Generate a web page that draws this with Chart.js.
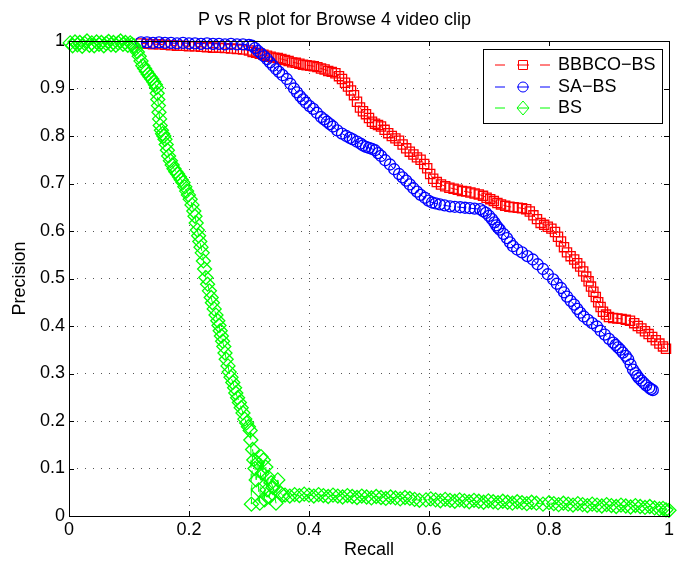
<!DOCTYPE html>
<html>
<head>
<meta charset="utf-8">
<script src="https://cdn.jsdelivr.net/npm/chart.js@4.4.1/dist/chart.umd.min.js"></script>
<style>
  html, body { margin: 0; padding: 0; background: #fff; }
  #wrap { width: 680px; height: 561px; }
</style>
</head>
<body>
<div id="wrap"><canvas id="prChart" width="680" height="561"></canvas></div>
<script>
// tick labels
const xTickValues = [0, 0.2, 0.4, 0.6, 0.8, 1];
const xTickLabels = ["0", "0.2", "0.4", "0.6", "0.8", "1"];
const yTickValues = [0, 0.1, 0.2, 0.3, 0.4, 0.5, 0.6, 0.7, 0.8, 0.9, 1];
const yTickLabels = ["0", "0.1", "0.2", "0.3", "0.4", "0.5", "0.6", "0.7", "0.8", "0.9", "1"];

const seriesNames = ["BBBCO\u2212BS", "SA\u2212BS", "BS"];

// [recall, precision]

// BBBCO-BS (red squares)
const bbbCurve = [
  [0.12, 0.995], [0.13, 0.994], [0.14, 0.993], [0.15, 0.993], [0.16, 0.992], [0.17, 0.991], [0.18, 0.99],
  [0.19, 0.99], [0.2, 0.989], [0.21, 0.989], [0.22, 0.988], [0.23, 0.987], [0.24, 0.986], [0.25, 0.986],
  [0.26, 0.985], [0.27, 0.984], [0.28, 0.983], [0.29, 0.982], [0.3, 0.98], [0.306, 0.977], [0.312, 0.975],
  [0.318, 0.973], [0.324, 0.971], [0.33, 0.969], [0.336, 0.967], [0.342, 0.965], [0.348, 0.964], [0.354, 0.962],
  [0.36, 0.96], [0.366, 0.958], [0.372, 0.955], [0.378, 0.954], [0.384, 0.952], [0.39, 0.95], [0.396, 0.949],
  [0.402, 0.948], [0.408, 0.947], [0.414, 0.945], [0.42, 0.942], [0.426, 0.94], [0.432, 0.937], [0.438, 0.935],
  [0.444, 0.932], [0.45, 0.926], [0.455, 0.92], [0.46, 0.912], [0.465, 0.904], [0.47, 0.896], [0.475, 0.886],
  [0.48, 0.872], [0.485, 0.86], [0.49, 0.852], [0.495, 0.846], [0.5, 0.838], [0.505, 0.83], [0.51, 0.826],
  [0.515, 0.823], [0.52, 0.82], [0.526, 0.813], [0.532, 0.806], [0.538, 0.8], [0.544, 0.795], [0.55, 0.79],
  [0.556, 0.782], [0.562, 0.774], [0.568, 0.767], [0.574, 0.761], [0.58, 0.755], [0.586, 0.75], [0.592, 0.741],
  [0.597, 0.732], [0.602, 0.72], [0.607, 0.71], [0.613, 0.703], [0.62, 0.698], [0.627, 0.694], [0.634, 0.691],
  [0.641, 0.689], [0.648, 0.687], [0.655, 0.684], [0.662, 0.683], [0.669, 0.681], [0.676, 0.679], [0.683, 0.677],
  [0.69, 0.674], [0.696, 0.67], [0.702, 0.667], [0.708, 0.663], [0.714, 0.659], [0.72, 0.656], [0.727, 0.653],
  [0.734, 0.651], [0.741, 0.65], [0.748, 0.649], [0.755, 0.648], [0.762, 0.646], [0.768, 0.641], [0.774, 0.633],
  [0.78, 0.625], [0.786, 0.617], [0.792, 0.613], [0.798, 0.609], [0.804, 0.605], [0.81, 0.598], [0.815, 0.588],
  [0.82, 0.578], [0.825, 0.566], [0.83, 0.555], [0.836, 0.547], [0.842, 0.54], [0.847, 0.532], [0.852, 0.525],
  [0.857, 0.515], [0.862, 0.504], [0.866, 0.494], [0.87, 0.483], [0.874, 0.472], [0.878, 0.461], [0.882, 0.45],
  [0.886, 0.44], [0.89, 0.43], [0.895, 0.424], [0.9, 0.419], [0.907, 0.417], [0.914, 0.416], [0.921, 0.415],
  [0.928, 0.413], [0.935, 0.411], [0.942, 0.406], [0.948, 0.4], [0.954, 0.395], [0.96, 0.389], [0.966, 0.383],
  [0.972, 0.377], [0.978, 0.37], [0.984, 0.363], [0.99, 0.357], [0.995, 0.352],
];

// SA-BS (blue circles)
const saCurve = [
  [0.12, 0.997], [0.13, 0.997], [0.14, 0.996], [0.15, 0.997], [0.16, 0.996], [0.17, 0.996], [0.18, 0.995],
  [0.19, 0.996], [0.2, 0.995], [0.21, 0.995], [0.22, 0.994], [0.23, 0.995], [0.24, 0.994], [0.25, 0.994],
  [0.26, 0.993], [0.27, 0.994], [0.28, 0.993], [0.29, 0.993], [0.3, 0.992], [0.305, 0.99], [0.31, 0.985],
  [0.315, 0.979], [0.32, 0.974], [0.325, 0.968], [0.33, 0.962], [0.335, 0.955], [0.34, 0.948], [0.345, 0.941],
  [0.35, 0.935], [0.356, 0.928], [0.363, 0.92], [0.369, 0.91], [0.375, 0.9], [0.38, 0.892], [0.385, 0.884],
  [0.39, 0.877], [0.395, 0.87], [0.401, 0.863], [0.407, 0.857], [0.413, 0.849], [0.42, 0.84], [0.425, 0.835],
  [0.43, 0.83], [0.435, 0.825], [0.44, 0.82], [0.447, 0.812], [0.455, 0.805], [0.462, 0.8], [0.468, 0.796],
  [0.473, 0.793], [0.48, 0.788], [0.486, 0.784], [0.49, 0.78], [0.495, 0.777], [0.5, 0.775], [0.505, 0.773],
  [0.51, 0.77], [0.515, 0.764], [0.52, 0.758], [0.527, 0.749], [0.535, 0.74], [0.542, 0.73], [0.55, 0.72],
  [0.556, 0.713], [0.562, 0.706], [0.568, 0.698], [0.574, 0.69], [0.58, 0.683], [0.586, 0.676], [0.593, 0.67],
  [0.599, 0.664], [0.605, 0.66], [0.611, 0.658], [0.618, 0.656], [0.626, 0.654], [0.635, 0.652], [0.643, 0.651],
  [0.652, 0.65], [0.66, 0.649], [0.668, 0.648], [0.676, 0.647], [0.685, 0.646], [0.69, 0.642], [0.695, 0.638],
  [0.7, 0.632], [0.705, 0.625], [0.709, 0.618], [0.712, 0.612], [0.715, 0.607], [0.718, 0.603], [0.724, 0.594],
  [0.73, 0.585], [0.735, 0.576], [0.74, 0.568], [0.747, 0.561], [0.755, 0.555], [0.764, 0.547], [0.773, 0.54],
  [0.781, 0.53], [0.79, 0.52], [0.798, 0.509], [0.807, 0.498], [0.813, 0.489], [0.82, 0.48], [0.825, 0.471],
  [0.83, 0.462], [0.836, 0.453], [0.842, 0.445], [0.847, 0.436], [0.852, 0.428], [0.858, 0.42], [0.865, 0.413],
  [0.872, 0.406], [0.88, 0.399], [0.886, 0.39], [0.893, 0.382], [0.9, 0.373], [0.907, 0.365], [0.911, 0.36],
  [0.915, 0.355], [0.919, 0.35], [0.923, 0.344], [0.928, 0.337], [0.932, 0.33], [0.936, 0.319], [0.94, 0.308],
  [0.944, 0.301], [0.947, 0.295], [0.95, 0.29], [0.954, 0.285], [0.958, 0.28], [0.962, 0.275], [0.967, 0.27],
  [0.97, 0.267], [0.973, 0.265],
];

// BS (green diamonds)
const bsCurve = [
  [0.002, 0.996], [0.006, 0.99], [0.01, 0.998], [0.014, 0.992], [0.018, 0.997], [0.022, 0.989], [0.026, 0.995],
  [0.03, 1.0], [0.034, 0.991], [0.038, 0.996], [0.042, 0.99], [0.046, 0.998], [0.05, 0.993], [0.054, 0.997],
  [0.058, 0.99], [0.062, 0.995], [0.066, 0.999], [0.07, 0.992], [0.074, 0.997], [0.078, 0.991], [0.082, 0.996],
  [0.086, 1.0], [0.09, 0.993], [0.094, 0.997], [0.098, 0.991], [0.102, 0.996], [0.105, 0.993],
  [0.108, 0.99], [0.111, 0.984], [0.114, 0.977], [0.117, 0.968], [0.12, 0.958], [0.123, 0.948], [0.126, 0.942],
  [0.129, 0.936], [0.132, 0.93], [0.135, 0.925], [0.138, 0.92], [0.141, 0.914], [0.144, 0.908], [0.146, 0.902],
  [0.147, 0.89], [0.148, 0.877], [0.149, 0.864], [0.15, 0.85], [0.151, 0.836], [0.152, 0.822], [0.154, 0.812],
  [0.156, 0.805], [0.158, 0.8], [0.16, 0.793], [0.162, 0.782], [0.164, 0.77], [0.166, 0.758], [0.169, 0.748],
  [0.172, 0.739], [0.175, 0.731], [0.178, 0.725], [0.181, 0.72], [0.184, 0.714], [0.187, 0.708], [0.19, 0.702],
  [0.193, 0.693], [0.196, 0.684], [0.199, 0.676], [0.202, 0.667], [0.205, 0.655], [0.208, 0.642], [0.21, 0.631],
  [0.212, 0.617], [0.214, 0.602], [0.216, 0.59], [0.218, 0.578], [0.22, 0.566], [0.222, 0.554], [0.224, 0.537],
  [0.226, 0.52], [0.228, 0.502], [0.231, 0.488], [0.234, 0.474], [0.237, 0.46], [0.239, 0.449], [0.242, 0.436],
  [0.245, 0.423], [0.248, 0.411], [0.25, 0.401], [0.252, 0.39], [0.254, 0.379], [0.256, 0.368], [0.258, 0.357],
  [0.26, 0.343], [0.262, 0.33], [0.265, 0.316], [0.267, 0.303], [0.27, 0.292], [0.273, 0.281], [0.276, 0.27],
  [0.278, 0.259], [0.281, 0.249], [0.284, 0.239], [0.287, 0.228], [0.29, 0.217], [0.293, 0.204], [0.296, 0.196],
  [0.299, 0.188], [0.302, 0.18], [0.303, 0.16], [0.304, 0.025], [0.306, 0.14], [0.308, 0.118], [0.31, 0.1],
  [0.312, 0.076], [0.314, 0.112], [0.316, 0.055], [0.318, 0.027], [0.32, 0.125], [0.322, 0.09], [0.324, 0.118],
  [0.326, 0.034], [0.328, 0.103], [0.33, 0.055], [0.332, 0.082], [0.334, 0.04], [0.337, 0.07], [0.34, 0.06],
  [0.345, 0.027], [0.348, 0.076], [0.352, 0.049], [0.356, 0.044],
  [0.36, 0.044], [0.368, 0.042], [0.376, 0.045], [0.384, 0.043], [0.392, 0.046], [0.4, 0.044], [0.408, 0.042],
  [0.416, 0.045], [0.424, 0.043], [0.432, 0.041], [0.44, 0.044], [0.448, 0.042], [0.456, 0.04], [0.464, 0.043],
  [0.472, 0.041], [0.48, 0.039], [0.488, 0.042], [0.496, 0.04], [0.504, 0.038], [0.512, 0.041], [0.52, 0.039],
  [0.528, 0.037], [0.536, 0.04], [0.544, 0.038], [0.552, 0.036], [0.56, 0.039], [0.568, 0.037], [0.576, 0.035],
  [0.584, 0.033], [0.595, 0.034], [0.603, 0.036], [0.611, 0.034], [0.619, 0.032], [0.627, 0.035], [0.635, 0.033],
  [0.643, 0.031], [0.651, 0.034], [0.659, 0.032], [0.667, 0.03], [0.675, 0.033], [0.683, 0.031], [0.691, 0.029],
  [0.699, 0.032], [0.707, 0.03], [0.715, 0.028], [0.723, 0.031], [0.731, 0.029], [0.739, 0.027], [0.747, 0.03],
  [0.755, 0.028], [0.763, 0.026], [0.771, 0.029], [0.779, 0.027], [0.79, 0.025], [0.8, 0.028], [0.808, 0.026],
  [0.816, 0.024], [0.824, 0.027], [0.832, 0.025], [0.84, 0.023], [0.848, 0.026], [0.856, 0.024], [0.864, 0.022],
  [0.872, 0.025], [0.88, 0.023], [0.888, 0.021], [0.896, 0.024], [0.904, 0.022], [0.912, 0.02], [0.92, 0.023],
  [0.928, 0.021], [0.936, 0.019], [0.944, 0.022], [0.952, 0.02], [0.96, 0.018], [0.968, 0.02], [0.976, 0.017],
  [0.984, 0.015], [0.99, 0.016], [0.995, 0.013], [1.0, 0.012],
];

const toPoints = (pairs) => pairs.map((p) => ({ x: p[0], y: p[1] }));

const FONT = "'Liberation Sans', Helvetica, Arial, sans-serif";
const RED = "#ff0000";
const BLUE = "#0000ff";
const GREEN = "#00ff00";

// box, inward ticks and legend in MATLAB style
const matlabFrame = {
  id: "matlabFrame",
  afterDraw(chart) {
    const { ctx, chartArea: a, scales } = chart;
    ctx.save();
    ctx.strokeStyle = "#000";
    ctx.lineWidth = 1;
    ctx.beginPath();
    xTickValues.forEach((v) => {
      const px = Math.round(scales.x.getPixelForValue(v)) + 0.5;
      ctx.moveTo(px, a.bottom); ctx.lineTo(px, a.bottom - 5);
      ctx.moveTo(px, a.top); ctx.lineTo(px, a.top + 5);
    });
    yTickValues.forEach((v) => {
      const py = Math.round(scales.y.getPixelForValue(v)) + 0.5;
      ctx.moveTo(a.left, py); ctx.lineTo(a.left + 5, py);
      ctx.moveTo(a.right, py); ctx.lineTo(a.right - 5, py);
    });
    ctx.stroke();
    ctx.strokeRect(Math.round(a.left) + 0.5, Math.round(a.top) + 0.5,
      Math.round(a.right - a.left), Math.round(a.bottom - a.top));

    // legend
    const lx = 483.5, ly = 49.5, lw = 179, lh = 74;
    ctx.fillStyle = "#fff";
    ctx.fillRect(lx, ly, lw, lh);
    ctx.strokeRect(lx, ly, lw, lh);
    const rows = [65, 87, 108];
    const colors = [RED, BLUE, GREEN];
    ctx.font = "18px " + FONT;
    ctx.textBaseline = "middle";
    rows.forEach((ry, i) => {
      ctx.strokeStyle = colors[i];
      ctx.lineWidth = 1;
      ctx.beginPath();
      ctx.moveTo(495, ry); ctx.lineTo(505, ry);
      ctx.moveTo(517, ry); ctx.lineTo(529, ry);
      ctx.moveTo(540, ry); ctx.lineTo(550, ry);
      ctx.stroke();
      ctx.beginPath();
      const mx = 523;
      if (i === 0) {
        ctx.rect(mx - 4.5, ry - 4.5, 9, 9);
      } else if (i === 1) {
        ctx.arc(mx, ry, 5, 0, Math.PI * 2);
      } else {
        ctx.moveTo(mx, ry - 7); ctx.lineTo(mx + 6, ry); ctx.lineTo(mx, ry + 7); ctx.lineTo(mx - 6, ry); ctx.closePath();
      }
      ctx.stroke();
      ctx.fillStyle = "#000";
      ctx.fillText(seriesNames[i], 558, ry);
    });
    ctx.restore();
  },
};

const common = {
  showLine: true,
  borderWidth: 1,
  borderDash: [8, 6],
  pointBorderWidth: 1.3,
  backgroundColor: "rgba(0,0,0,0)",
  pointBackgroundColor: "rgba(0,0,0,0)",
  clip: false,
  tension: 0,
};

new Chart(document.getElementById("prChart"), {
  type: "scatter",
  data: {
    datasets: [
      Object.assign({}, common, {
        label: seriesNames[0],
        data: toPoints(bbbCurve),
        borderColor: RED,
        pointBorderColor: RED,
        pointStyle: "rect",
        pointRadius: 6.5,
        order: 3,
      }),
      Object.assign({}, common, {
        label: seriesNames[1],
        data: toPoints(saCurve),
        borderColor: BLUE,
        pointBorderColor: BLUE,
        pointStyle: "circle",
        pointRadius: 5.5,
        order: 2,
      }),
      Object.assign({}, common, {
        label: seriesNames[2],
        data: toPoints(bsCurve),
        borderColor: GREEN,
        pointBorderColor: GREEN,
        pointStyle: "rectRot",
        pointRadius: 7,
        order: 1,
      }),
    ],
  },
  plugins: [matlabFrame],
  options: {
    responsive: false,
    animation: false,
    layout: { padding: { left: 0, right: 11, top: 0, bottom: 0 } },
    plugins: {
      legend: { display: false },
      tooltip: { enabled: false },
      title: {
        display: true,
        text: "P vs R plot for Browse 4 video clip",
        color: "#000",
        font: { family: FONT, size: 18, weight: "normal" },
        padding: { top: 9, bottom: 10.4 },
      },
    },
    scales: {
      x: {
        type: "linear",
        min: 0,
        max: 1,
        afterBuildTicks: (s) => { s.ticks = xTickValues.map((v) => ({ value: v })); },
        afterFit: (s) => { s.height = 45; },
        ticks: {
          color: "#000",
          padding: 3,
          font: { family: FONT, size: 18 },
          callback: (v) => xTickLabels[xTickValues.indexOf(v)],
        },
        grid: { color: "#555", lineWidth: 1, drawTicks: false },
        border: { display: false, dash: [1, 7] },
        title: {
          display: true,
          text: "Recall",
          color: "#000",
          font: { family: FONT, size: 18 },
          padding: { top: 0, bottom: 0 },
        },
      },
      y: {
        type: "linear",
        min: 0,
        max: 1,
        afterBuildTicks: (s) => { s.ticks = yTickValues.map((v) => ({ value: v })); },
        afterFit: (s) => { s.width = 69; },
        ticks: {
          color: "#000",
          padding: 4,
          font: { family: FONT, size: 18 },
          callback: (v) => yTickLabels[yTickValues.indexOf(v)],
        },
        grid: { color: "#555", lineWidth: 1, drawTicks: false },
        border: { display: false, dash: [1, 7] },
        title: {
          display: true,
          text: "Precision",
          color: "#000",
          font: { family: FONT, size: 18 },
          padding: { top: 9, bottom: 0 },
        },
      },
    },
  },
});
</script>
</body>
</html>
